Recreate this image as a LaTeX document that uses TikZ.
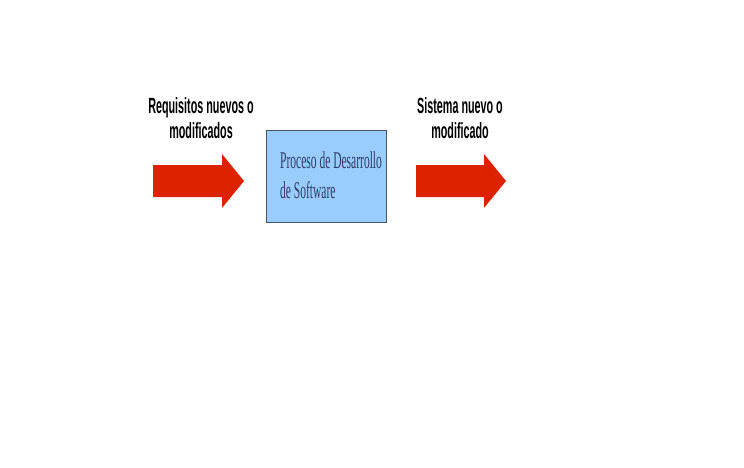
\documentclass[tikz,border=0pt]{standalone}
\usepackage{fontspec}
\usepackage{tikz}
\usetikzlibrary{calc,positioning}

\newfontfamily\etiqfont[FakeStretch=0.49]{Liberation Sans Bold}
\newfontfamily\cajafont[FakeStretch=0.48]{Liberation Serif}

\definecolor{rojoflecha}{RGB}{221,34,0}
\definecolor{azulcaja}{RGB}{153,204,255}
\definecolor{bordecaja}{RGB}{70,84,100}
\definecolor{textocaja}{RGB}{46,62,100}

\tikzset{
  flecha/.style={fill=rojoflecha, draw=none},
  caja/.style={fill=azulcaja, draw=bordecaja, line width=1.2pt, minimum width=120pt, minimum height=92pt, inner sep=0pt},
  etiqueta/.style={inner sep=0pt, align=center, font=\etiqfont\fontsize{22}{25}\selectfont},
  textocaja/.style={inner sep=0pt, align=left, text=textocaja, font=\cajafont\fontsize{24}{30}\selectfont}
}

\begin{document}
\begin{tikzpicture}[x=1pt,y=-1pt]
            \useasboundingbox (0,0) rectangle (744,467);
            \node[caja, anchor=north west] (Proc) at (266,130) {};
            \node[textocaja, anchor=north west] (ProcTxt) at (280,152) {Proceso de Desarrollo\\de Software};
            \coordinate (EntCola) at (153,181);
            \coordinate (EntPunta) at (244,181);
            \coordinate (SalCola) at (416,181);
            \coordinate (SalPunta) at (506,181);
            \foreach \c/\p in {EntCola/EntPunta, SalCola/SalPunta}
                \fill[flecha] ($(\c)+(0,-16)$) -- ($(\p)+(-22,-16)$) -- ($(\p)+(-22,-27)$) -- (\p)
                    -- ($(\p)+(-22,27)$) -- ($(\p)+(-22,16)$) -- ($(\c)+(0,16)$) -- cycle;
            \node[etiqueta, anchor=north] (Req) at (201,97) {Requisitos nuevos o\\modificados};
            \node[etiqueta, anchor=north] (Sis) at (460,97) {Sistema nuevo o\\modificado};
        \end{tikzpicture}
\end{document}
